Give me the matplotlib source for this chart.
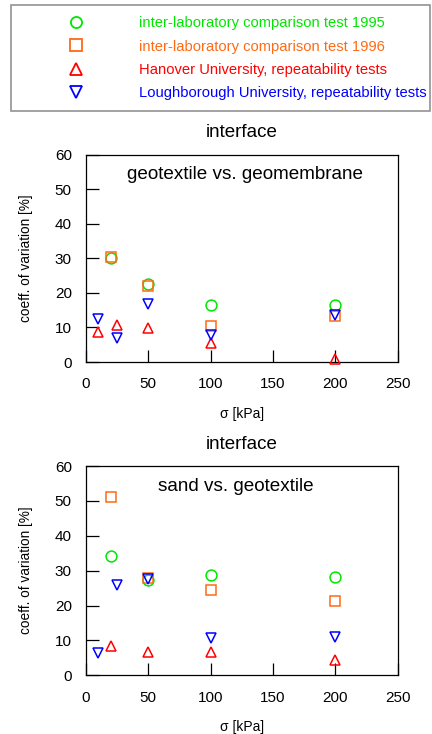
import matplotlib
matplotlib.use("Agg")
import matplotlib.pyplot as plt
from matplotlib.lines import Line2D

plt.rcParams['font.family'] = ['Liberation Sans', 'DejaVu Sans']

# normal stress levels [kPa] and coefficients of variation [%]
series_labels = [
    "inter-laboratory comparison test 1995",
    "inter-laboratory comparison test 1996",
    "Hanover University, repeatability tests",
    "Loughborough University, repeatability tests",
]
series_colors = ["#00e600", "#ff6a14", "#ff0000", "#0000ff"]
series_markers = ["o", "s", "^", "v"]

# geotextile vs. geomembrane
gm_x_1995 = [20, 50, 100, 200]
gm_y_1995 = [30.0, 22.7, 16.5, 16.6]
gm_x_1996 = [20, 50, 100, 200]
gm_y_1996 = [30.4, 22.1, 10.4, 13.2]
gm_x_hanover = [10, 25, 50, 100, 200]
gm_y_hanover = [8.8, 10.7, 9.7, 5.4, 0.9]
gm_x_lough = [10, 25, 50, 100, 200]
gm_y_lough = [12.4, 7.0, 16.7, 7.8, 13.6]

# sand vs. geotextile
sg_x_1995 = [20, 50, 100, 200]
sg_y_1995 = [34.1, 27.3, 28.7, 28.3]
sg_x_1996 = [20, 50, 100, 200]
sg_y_1996 = [51.1, 27.8, 24.5, 21.4]
sg_x_hanover = [20, 50, 100, 200]
sg_y_hanover = [8.4, 6.6, 6.6, 4.4]
sg_x_lough = [10, 25, 50, 100, 200]
sg_y_lough = [6.4, 26.0, 27.5, 10.6, 11.1]

x_ticks = [0, 50, 100, 150, 200, 250]
y_ticks = [0, 10, 20, 30, 40, 50, 60]

fig = plt.figure(figsize=(4.32, 7.34), dpi=100)

W, H = 432.0, 734.0


def make_axes(top_px, bottom_px):
    left_px, right_px = 85.7, 397.7
    return fig.add_axes([left_px / W, 1 - bottom_px / H,
                         (right_px - left_px) / W, (bottom_px - top_px) / H])


def draw_panel(ax, datasets, inner_text, text_x, text_y):
    for (xs, ys), c, m in zip(datasets, series_colors, series_markers):
        ax.plot(xs, ys, linestyle="none", marker=m, markersize=7.8,
                markerfacecolor="none", markeredgecolor=c,
                markeredgewidth=1.1, clip_on=False, zorder=3)
    ax.set_xlim(0, 250)
    ax.set_ylim(0, 60)
    ax.set_xticks(x_ticks)
    ax.set_yticks(y_ticks)
    ax.tick_params(axis="both", direction="in", length=9, width=0.9,
                   labelsize=11, colors="black")
    ax.tick_params(axis="y", pad=10)
    ax.tick_params(axis="x", pad=11)
    for s in ax.spines.values():
        s.set_linewidth(0.9)
    ax.set_title("interface", fontsize=13.5, pad=12.5)
    ax.set_xlabel("σ [kPa]", fontsize=10, labelpad=11)
    ax.set_ylabel("coeff. of variation [%]", fontsize=9.8, labelpad=15.5)
    ax.text(text_x, text_y, inner_text, transform=ax.transAxes,
            ha="center", va="center", fontsize=13.6)


ax1 = make_axes(154.7, 362.0)
draw_panel(ax1, [(gm_x_1995, gm_y_1995), (gm_x_1996, gm_y_1996),
                 (gm_x_hanover, gm_y_hanover), (gm_x_lough, gm_y_lough)],
           "geotextile vs. geomembrane", 0.51, 0.905)

ax2 = make_axes(466.0, 675.3)
draw_panel(ax2, [(sg_x_1995, sg_y_1995), (sg_x_1996, sg_y_1996),
                 (sg_x_hanover, sg_y_hanover), (sg_x_lough, sg_y_lough)],
           "sand vs. geotextile", 0.482, 0.9)

handles = [Line2D([], [], linestyle="none", marker=m, markersize=8,
                  markerfacecolor="none", markeredgecolor=c, markeredgewidth=1.3)
           for c, m in zip(series_colors, series_markers)]
leg = fig.legend(handles, series_labels, loc="upper left",
                 bbox_to_anchor=(10.7 / W, 1 - 5.3 / H, (430 - 10.7) / W, 0.0),
                 mode="expand", fontsize=10.6, labelcolor=series_colors,
                 frameon=True, fancybox=False, edgecolor="#777777",
                 handlelength=7.35, handletextpad=0.6, borderpad=0.75,
                 labelspacing=0.63, borderaxespad=0.0)
leg.get_frame().set_linewidth(1.2)

fig.savefig("out.png", dpi=100)
